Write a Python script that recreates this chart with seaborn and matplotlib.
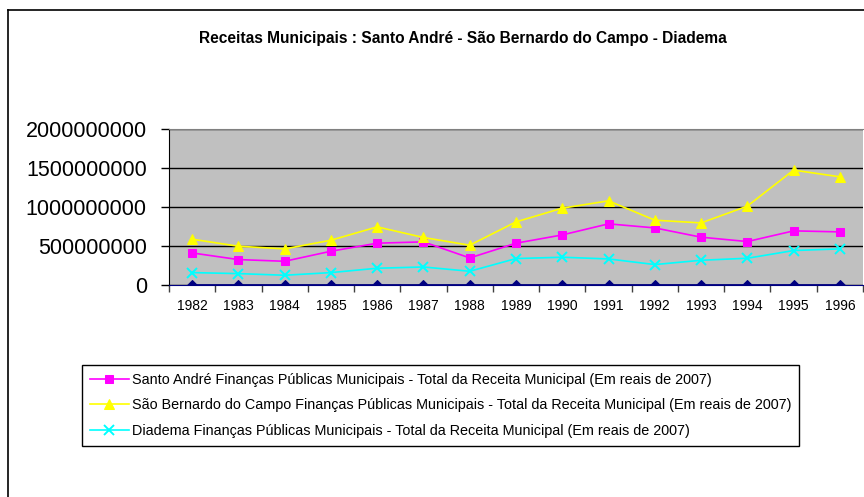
import matplotlib
matplotlib.use("Agg")
import matplotlib.pyplot as plt
from matplotlib.lines import Line2D
from matplotlib.ticker import FixedLocator, FuncFormatter
import seaborn as sns
import pandas as pd

years = [1982, 1983, 1984, 1985, 1986, 1987, 1988, 1989,
         1990, 1991, 1992, 1993, 1994, 1995, 1996]
santo_andre = [411e6, 326e6, 304e6, 433e6, 536e6, 553e6, 347e6, 536e6,
               642e6, 784e6, 732e6, 613e6, 557e6, 694e6, 681e6]
sao_bernardo = [587e6, 497e6, 463e6, 574e6, 745e6, 609e6, 510e6, 809e6,
                985e6, 1079e6, 831e6, 796e6, 1011e6, 1473e6, 1387e6]
diadema = [159e6, 146e6, 125e6, 159e6, 215e6, 231e6, 176e6, 339e6,
           356e6, 334e6, 262e6, 317e6, 343e6, 442e6, 463e6]
base = [0, 0, 0, 0, 0, 0, 0, 0, 0, 0, 0, 0, 0, 0, 0]

labels = [
    "Santo André Finanças Públicas Municipais - Total da Receita Municipal (Em reais de 2007)",
    "São Bernardo do Campo Finanças Públicas Municipais - Total da Receita Municipal (Em reais de 2007)",
    "Diadema Finanças Públicas Municipais - Total da Receita Municipal (Em reais de 2007)",
]
y_ticks = [0, 500000000, 1000000000, 1500000000, 2000000000]

df = pd.DataFrame({"pos": range(len(years)), "ano": years,
                   "sa": santo_andre, "sb": sao_bernardo,
                   "di": diadema, "base": base})

plt.rcParams['font.family'] = ['Liberation Sans', 'DejaVu Sans']

fig = plt.figure(figsize=(8.64, 4.97), dpi=100)
W, H = 864, 497
ax = fig.add_axes([169 / W, 1 - 285 / H, (863 - 169) / W, (285 - 129) / H])
ax.set_facecolor('#C0C0C0')

# series
sns.lineplot(data=df, x="pos", y="base", ax=ax, color='#000080', marker='D',
             markersize=5, markeredgecolor='#000080', lw=2, legend=False, zorder=3)
sns.lineplot(data=df, x="pos", y="sa", ax=ax, color='#FF00FF', marker='s',
             markersize=6, markeredgecolor='#FF00FF', lw=1.2, label=labels[0], zorder=4)
sns.lineplot(data=df, x="pos", y="sb", ax=ax, color='#FFFF00', marker='^',
             markersize=7, markeredgecolor='#FFFF00', lw=1.2, label=labels[1], zorder=4)
sns.lineplot(data=df, x="pos", y="di", ax=ax, color='#00FFFF', marker='x',
             markersize=7, markeredgecolor='#00FFFF', markeredgewidth=1.4,
             lw=1.2, label=labels[2], zorder=4)

ax.set_xlim(-0.5, len(years) - 0.5)
ax.set_ylim(0, 2000000000)
ax.set_xlabel("")
ax.set_ylabel("")

ax.set_yticks(y_ticks)
ax.yaxis.set_major_formatter(FuncFormatter(lambda v, p: "%d" % v))
ax.tick_params(axis='y', labelsize=15.5, length=6, width=1, color='black', pad=10)
ax.yaxis.grid(True, color='black', lw=1)
ax.set_axisbelow(True)

ax.set_xticks(range(len(years)))
ax.set_xticklabels([str(y) for y in years])
ax.xaxis.set_minor_locator(FixedLocator([i - 0.5 for i in range(len(years) + 1)]))
ax.tick_params(axis='x', which='major', length=0, labelsize=10, pad=10)
ax.tick_params(axis='x', which='minor', length=5, width=1, color='#404040')

ax.spines['top'].set_color('#808080')
ax.spines['right'].set_visible(False)
ax.spines['left'].set_color('black')
ax.spines['bottom'].set_color('#000080')

handles, hl = ax.get_legend_handles_labels()
ax.get_legend().remove()
fig.legend(handles, hl, loc='upper left', bbox_to_anchor=(82 / W, 1 - 365 / H),
           frameon=True, fancybox=False, edgecolor='black', framealpha=1,
           fontsize=10.35, handlelength=2.7, handletextpad=0.2, labelspacing=0.8,
           borderpad=0.55, borderaxespad=0)

fig.text(463 / W, 1 - 38 / H,
         "Receitas Municipais : Santo André - São Bernardo do Campo - Diadema",
         ha='center', va='center', fontsize=11.2, fontweight='bold')

# outer chart frame
fig.add_artist(Line2D([8 / W, 8 / W], [0, 1 - 10 / H], transform=fig.transFigure,
                      color='black', lw=1.2))
fig.add_artist(Line2D([8 / W, 1], [1 - 10 / H, 1 - 10 / H], transform=fig.transFigure,
                      color='black', lw=1.2))

fig.savefig("out.png", dpi=100)
